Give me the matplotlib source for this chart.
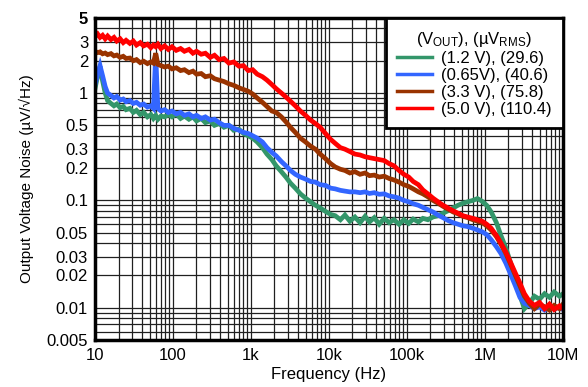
import matplotlib
matplotlib.use("Agg")
import matplotlib.pyplot as plt
from matplotlib.ticker import FixedLocator, FixedFormatter, LogLocator, NullFormatter

plt.rcParams['font.family'] = ['Liberation Sans', 'DejaVu Sans']
plt.rcParams['mathtext.fontset'] = 'custom'
plt.rcParams['mathtext.rm'] = 'Liberation Sans'
plt.rcParams['mathtext.it'] = 'Liberation Sans:italic'

# frequency grid (Hz), shared by all curves
freq = [
    10, 10.8, 11.6, 12.5, 13.5, 14.5, 16, 17.5, 19, 21, 23, 25,
    28, 31, 34, 38, 42, 47, 52, 56, 60, 64, 70, 78,
    87, 97, 110, 125, 140, 160, 180, 200, 230, 260, 300, 340,
    390, 450, 520, 600, 700, 800, 920, 1050, 1200, 1400, 1600, 1850,
    2100, 2450, 2800, 3200, 3700, 4300, 5000, 5800, 6700, 7700, 9000, 10500,
    12000, 14000, 16000, 18500, 21500, 25000, 29000, 33000, 38000, 44000, 51000, 59000,
    68000, 79000, 91000, 105000, 120000, 140000, 160000, 185000, 215000, 250000, 290000, 335000,
    390000, 450000, 520000, 600000, 700000, 800000, 920000, 1.05e6, 1.2e6, 1.4e6, 1.6e6, 1.85e6,
    2.1e6, 2.45e6, 2.8e6, 3.2e6, 3.7e6, 4.3e6, 5e6, 5.8e6, 6.7e6, 7.7e6, 9e6, 10e6,
]

# output noise (uV/rtHz)
noise_1v2 = [
    1.1, 1.45, 1.7, 1.3, 1.0, 0.85, 0.8, 0.76, 0.79, 0.73, 0.75, 0.7,
    0.72, 0.66, 0.69, 0.63, 0.66, 0.6, 0.63, 0.58, 0.62, 0.57, 0.61, 0.6,
    0.63, 0.6, 0.64, 0.58, 0.61, 0.57, 0.6, 0.55, 0.58, 0.53, 0.55, 0.5,
    0.52, 0.48, 0.5, 0.45, 0.46, 0.42, 0.4, 0.38, 0.35, 0.31, 0.27, 0.24,
    0.21, 0.185, 0.165, 0.145, 0.13, 0.115, 0.105, 0.097, 0.09, 0.085, 0.079, 0.074,
    0.072, 0.066, 0.073, 0.064, 0.07, 0.062, 0.071, 0.063, 0.069, 0.06, 0.068, 0.062,
    0.066, 0.06, 0.066, 0.061, 0.067, 0.063, 0.068, 0.066, 0.07, 0.072, 0.076, 0.08,
    0.085, 0.09, 0.094, 0.097, 0.1, 0.104, 0.098, 0.09, 0.078, 0.062, 0.047, 0.036,
    0.027, 0.019, 0.013, 0.0098, 0.011, 0.0128, 0.012, 0.0135, 0.0125, 0.014, 0.0128, 0.0135,
]
noise_0v65 = [
    1.2, 1.5, 1.8, 1.45, 1.15, 1.0, 0.95, 0.9, 0.93, 0.86, 0.88, 0.83,
    0.85, 0.8, 0.82, 0.77, 0.79, 0.74, 0.76, 0.72, 2.3, 0.72, 0.68, 0.7,
    0.66, 0.68, 0.64, 0.66, 0.62, 0.64, 0.6, 0.62, 0.58, 0.6, 0.56, 0.57,
    0.53, 0.5, 0.5, 0.47, 0.45, 0.43, 0.42, 0.4, 0.38, 0.35, 0.31, 0.28,
    0.26, 0.23, 0.21, 0.19, 0.175, 0.165, 0.158, 0.15, 0.148, 0.14, 0.138, 0.13,
    0.128, 0.124, 0.122, 0.12, 0.12, 0.118, 0.12, 0.116, 0.118, 0.114, 0.115, 0.11,
    0.108, 0.105, 0.1, 0.097, 0.093, 0.09, 0.086, 0.082, 0.078, 0.073, 0.069, 0.065,
    0.062, 0.06, 0.058, 0.057, 0.055, 0.053, 0.051, 0.048, 0.043, 0.037, 0.032, 0.026,
    0.021, 0.016, 0.0125, 0.011, 0.0105, 0.0098, 0.0102, 0.0095, 0.0103, 0.0097, 0.0101, 0.0096,
]
noise_3v3 = [
    2.45, 2.38, 2.42, 2.32, 2.36, 2.28, 2.33, 2.22, 2.26, 2.15, 2.2, 2.1,
    2.12, 2.0, 2.05, 1.92, 1.98, 1.88, 1.95, 1.9, 2.35, 1.85, 1.8, 1.75,
    1.78, 1.68, 1.72, 1.62, 1.65, 1.55, 1.6, 1.5, 1.52, 1.42, 1.45, 1.36,
    1.32, 1.28, 1.22, 1.18, 1.12, 1.08, 1.04, 0.98, 0.9, 0.82, 0.75, 0.68,
    0.66, 0.6, 0.54, 0.48, 0.43, 0.38, 0.35, 0.32, 0.3, 0.27, 0.245, 0.22,
    0.205, 0.195, 0.19, 0.18, 0.185, 0.175, 0.18, 0.17, 0.172, 0.165, 0.168, 0.16,
    0.155, 0.148, 0.14, 0.135, 0.128, 0.12, 0.115, 0.108, 0.1, 0.094, 0.088, 0.083,
    0.078, 0.075, 0.071, 0.069, 0.066, 0.064, 0.062, 0.058, 0.053, 0.046, 0.039, 0.032,
    0.026, 0.02, 0.016, 0.0128, 0.011, 0.0098, 0.0108, 0.0102, 0.0095, 0.0105, 0.0098, 0.0108,
]
noise_5v0 = [
    3.35, 3.55, 3.3, 3.45, 3.2, 3.4, 3.15, 3.3, 3.05, 3.2, 2.95, 3.1,
    2.9, 3.05, 2.8, 2.95, 2.75, 2.85, 2.65, 2.8, 2.7, 2.85, 2.6, 2.75,
    2.55, 2.7, 2.5, 2.6, 2.45, 2.55, 2.35, 2.45, 2.3, 2.35, 2.15, 2.25,
    2.05, 2.1, 1.9, 1.95, 1.78, 1.8, 1.62, 1.65, 1.5, 1.42, 1.32, 1.2,
    1.1, 1.0, 0.92, 0.84, 0.76, 0.68, 0.62, 0.56, 0.52, 0.48, 0.42, 0.37,
    0.34, 0.31, 0.3, 0.285, 0.27, 0.265, 0.255, 0.25, 0.245, 0.24, 0.235, 0.22,
    0.21, 0.19, 0.175, 0.165, 0.15, 0.14, 0.125, 0.115, 0.105, 0.097, 0.09, 0.085,
    0.08, 0.076, 0.072, 0.07, 0.068, 0.066, 0.064, 0.06, 0.055, 0.047, 0.04, 0.033,
    0.027, 0.021, 0.017, 0.0135, 0.0115, 0.0105, 0.0112, 0.0098, 0.0108, 0.0096, 0.0104, 0.0098,
]

labels = ["(1.2 V), (29.6)", "(0.65V), (40.6)", "(3.3 V), (75.8)", "(5.0 V), (110.4)"]
colors = ["#33966a", "#3366ff", "#993300", "#ff0000"]

x_ticks = [10, 100, 1e3, 1e4, 1e5, 1e6, 1e7]
x_ticklabels = ["10", "100", "1k", "10k", "100k", "1M", "10M"]
y_ticks = [0.005, 0.01, 0.02, 0.03, 0.05, 0.1, 0.2, 0.3, 0.5, 1, 2, 3, 5]
y_ticklabels = ["0.005", "0.01", "0.02", "0.03", "0.05", "0.1", "0.2", "0.3", "0.5", "1", "2", "3", "5"]

fig = plt.figure(figsize=(5.88, 3.87), dpi=100)
ax = fig.add_axes([0.1616, 0.1214, 0.7959, 0.8320])

for vals, lab, col in zip([noise_1v2, noise_0v65, noise_3v3, noise_5v0], labels, colors):
    ax.plot(freq, vals, color=col, lw=3.4, label=lab, solid_joinstyle='miter')

ax.set_xscale('log')
ax.set_yscale('log')
ax.set_xlim(10, 1e7)
ax.set_ylim(0.005, 5)

ax.xaxis.set_major_locator(FixedLocator(x_ticks))
ax.xaxis.set_major_formatter(FixedFormatter(x_ticklabels))
ax.xaxis.set_minor_locator(LogLocator(base=10, subs=range(2, 10), numticks=20))
ax.xaxis.set_minor_formatter(NullFormatter())
ax.yaxis.set_major_locator(FixedLocator(y_ticks))
ax.yaxis.set_major_formatter(FixedFormatter(y_ticklabels))
ax.yaxis.set_minor_locator(LogLocator(base=10, subs=range(1, 10), numticks=20))
ax.yaxis.set_minor_formatter(NullFormatter())

ax.grid(True, which='both', color='#202020', lw=0.9)
ax.set_axisbelow(True)
ax.tick_params(which='both', length=0, labelsize=12)
ax.tick_params(axis='x', pad=6)
ax.tick_params(axis='y', pad=5)
ax.get_yticklabels()[-1].set_fontweight('bold')

for sp in ax.spines.values():
    sp.set_linewidth(2.5)

ax.set_xlabel("Frequency (Hz)", fontsize=12, labelpad=2.5)
ax.set_ylabel("Output Voltage Noise (µV/√Hz)", fontsize=11, labelpad=9)

leg = ax.legend(title=r"(V$_{\mathrm{OUT}}$), (µV$_{\mathrm{RMS}}$)", loc='upper right',
                borderaxespad=0, fontsize=12, title_fontsize=12, handlelength=2.1,
                fancybox=False, framealpha=1, edgecolor='black', labelspacing=0.12,
                handletextpad=0.5, borderpad=0.7)
leg.get_frame().set_linewidth(2)
for h in leg.get_lines():
    h.set_linewidth(2.5)

fig.savefig("out.png", dpi=100)
